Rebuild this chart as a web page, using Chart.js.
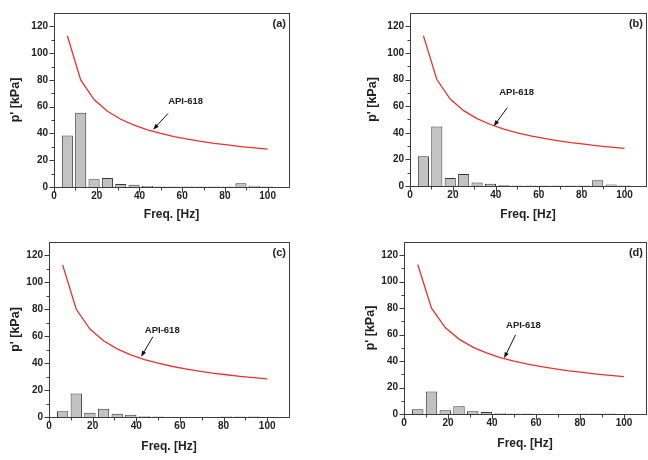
<!DOCTYPE html>
<html>
<head>
<title>API-618 pulsation spectra</title>
<script src="https://cdn.jsdelivr.net/npm/chart.js@4.4.0/dist/chart.umd.min.js"></script>
<style>
    body {
        margin: 0;
        background: #FFFFFF;
        width: 648px;
        height: 460px;
        position: relative;
        overflow: hidden;
    }
    canvas {
        position: absolute;
        width: 324px;
        height: 230px;
    }
</style>
</head>
<body>
<canvas id="ca" width="324" height="230" style="left:0;top:0"></canvas>
<canvas id="cb" width="324" height="230" style="left:324px;top:0"></canvas>
<canvas id="cc" width="324" height="230" style="left:0;top:230px"></canvas>
<canvas id="cd" width="324" height="230" style="left:324px;top:230px"></canvas>

<script type="text/javascript">
    // frequency bins (Hz) and the API-618 allowable pulsation curve
    const freq = [6.25, 12.5, 18.75, 25, 31.25, 37.5, 43.75, 50, 56.25, 62.5, 68.75, 75, 81.25, 87.5, 93.75, 100];
    const api618 = [113, 80, 65.3, 56.6, 50.6, 46.2, 42.7, 40, 37.7, 35.8, 34.1, 32.6, 31.4, 30.2, 29.2, 28.3];

    // measured pulsation p' (kPa) per case
    const pA = [38.5, 55.5, 5.7, 6.7, 2.2, 1.6, 0.7, 0.4, 0.3, 0.3, 0.3, 0.3, 0.4, 2.8, 1.0, 0.3];
    const pB = [22.3, 44.8, 6.0, 9.0, 2.6, 1.6, 0.5, 0.4, 0.3, 0.3, 0.3, 0.3, 0.4, 4.4, 1.2, 0.3];
    const pC = [4.2, 17.5, 3.2, 6.1, 2.5, 1.6, 0.6, 0.3, 0.2, 0.2, 0.2, 0.2, 0.3, 0.3, 0.3, 0.2];
    const pD = [3.6, 17.0, 2.9, 5.8, 2.1, 1.5, 0.6, 0.4, 0.3, 0.2, 0.2, 0.2, 0.3, 0.3, 0.3, 0.2];

    const xTicks = [0, 20, 40, 60, 80, 100];
    const yTicks = [0, 20, 40, 60, 80, 100, 120];

    const FONT = '"Liberation Sans", Arial, sans-serif';

    // box, minor/major ticks, panel tag and the API-618 arrow label
    const framePlugin = {
        id: 'frame',
        afterDraw(chart, args, o) {
            const ctx = chart.ctx;
            const a = chart.chartArea;
            const xs = chart.scales.x, ys = chart.scales.y;
            const L = Math.round(a.left) + 0.5, R = Math.round(a.right) + 0.5;
            const T = Math.round(a.top) + 0.5, B = Math.round(a.bottom) + 0.5;
            ctx.save();
            ctx.strokeStyle = '#3c3c3c';
            ctx.lineWidth = 1;
            ctx.strokeRect(L, T, R - L, B - T);
            ctx.beginPath();
            for (let v = 0; v <= 100; v += 10) {
                const px = Math.round(xs.getPixelForValue(v)) + 0.5;
                ctx.moveTo(px, B);
                ctx.lineTo(px, B + (v % 20 ? 3 : 5));
            }
            for (let v = 0; v <= 120; v += 10) {
                const py = Math.round(ys.getPixelForValue(v)) + 0.5;
                ctx.moveTo(L, py);
                ctx.lineTo(L - (v % 20 ? 3 : 5), py);
            }
            ctx.stroke();

            ctx.fillStyle = '#222';
            ctx.font = 'bold 11px ' + FONT;
            ctx.textAlign = 'right';
            ctx.textBaseline = 'middle';
            ctx.fillText(o.tag, a.right - 3, a.top + 10.5);

            const n = o.note;
            ctx.font = 'bold 9.5px ' + FONT;
            ctx.textAlign = 'center';
            ctx.fillText('API-618', xs.getPixelForValue(n[0]), ys.getPixelForValue(n[1]));
            const x1 = xs.getPixelForValue(n[2]), y1 = ys.getPixelForValue(n[3]);
            const x2 = xs.getPixelForValue(n[4]), y2 = ys.getPixelForValue(n[5]);
            const ang = Math.atan2(y2 - y1, x2 - x1);
            ctx.strokeStyle = '#111';
            ctx.beginPath();
            ctx.moveTo(x1, y1);
            ctx.lineTo(x2 - 4 * Math.cos(ang), y2 - 4 * Math.sin(ang));
            ctx.stroke();
            ctx.fillStyle = '#111';
            ctx.beginPath();
            ctx.moveTo(x2, y2);
            ctx.lineTo(x2 - 6 * Math.cos(ang) + 2.2 * Math.sin(ang), y2 - 6 * Math.sin(ang) - 2.2 * Math.cos(ang));
            ctx.lineTo(x2 - 6 * Math.cos(ang) - 2.2 * Math.sin(ang), y2 - 6 * Math.sin(ang) + 2.2 * Math.cos(ang));
            ctx.closePath();
            ctx.fill();
            ctx.restore();
        }
    };

    const panels = [
        {id: 'ca', tag: '(a)', vals: pA, left: 54, top: 13, right: 35, bottom: 187, yPad: 7.8, xPad: 7.8, note: [61.6, 64, 53.4, 55, 46.4, 42.8]},
        {id: 'cb', tag: '(b)', vals: pB, left: 86, top: 13, right: 2, bottom: 186, yPad: 41.1, xPad: 7.8, note: [49.7, 70.2, 45.4, 58.9, 39, 44.9]},
        {id: 'cc', tag: '(c)', vals: pC, left: 49, top: 9, right: 35, bottom: 187, yPad: 7.8, xPad: 6.1, note: [51.9, 64.5, 47.6, 59.6, 42.2, 44.7]},
        {id: 'cd', tag: '(d)', vals: pD, left: 80, top: 7, right: 2, bottom: 184, yPad: 39.5, xPad: 9.5, note: [54.3, 66.7, 50.7, 59.8, 45.5, 42.1]}
    ];

    panels.forEach(p => {
        new Chart(document.getElementById(p.id).getContext('2d'), {
            type: 'bar',
            data: {
                labels: freq,
                datasets: [
                    {
                        type: 'line',
                        data: api618,
                        borderColor: '#e8322e',
                        borderWidth: 1.3,
                        pointRadius: 0,
                        fill: false,
                        tension: 0
                    },
                    {
                        data: p.vals,
                        backgroundColor: '#c2c2c2',
                        borderColor: '#383838',
                        borderWidth: 1,
                        categoryPercentage: 1,
                        barPercentage: 0.83
                    }
                ]
            },
            options: {
                responsive: false,
                animation: false,
                layout: {padding: {left: 0, top: p.top, right: p.right, bottom: 0}},
                plugins: {
                    legend: {display: false},
                    tooltip: {enabled: false},
                    frame: {tag: p.tag, note: p.note}
                },
                scales: {
                    x: {
                        type: 'linear',
                        min: 0,
                        max: 110,
                        offset: false,
                        grid: {display: false, drawTicks: false},
                        border: {display: false},
                        afterBuildTicks: s => { s.ticks = xTicks.map(v => ({value: v})); },
                        afterFit: s => { s.height = 230 - p.bottom; },
                        ticks: {color: '#222', padding: 3, maxRotation: 0, font: {family: FONT, size: 10, weight: 'bold'}},
                        title: {display: true, text: 'Freq. [Hz]', color: '#222', padding: {top: 0, bottom: p.xPad}, font: {family: FONT, size: 12, weight: 'bold'}}
                    },
                    y: {
                        min: 0,
                        max: 130,
                        grid: {display: false, drawTicks: false},
                        border: {display: false},
                        afterBuildTicks: s => { s.ticks = yTicks.map(v => ({value: v})); },
                        afterFit: s => { s.width = p.left; },
                        ticks: {color: '#222', padding: 6, font: {family: FONT, size: 10, weight: 'bold'}},
                        title: {display: true, text: "p' [kPa]", color: '#222', padding: {top: p.yPad, bottom: 0}, font: {family: FONT, size: 12.5, weight: 'bold'}}
                    }
                }
            },
            plugins: [framePlugin]
        });
    });
</script>
</body>
</html>
